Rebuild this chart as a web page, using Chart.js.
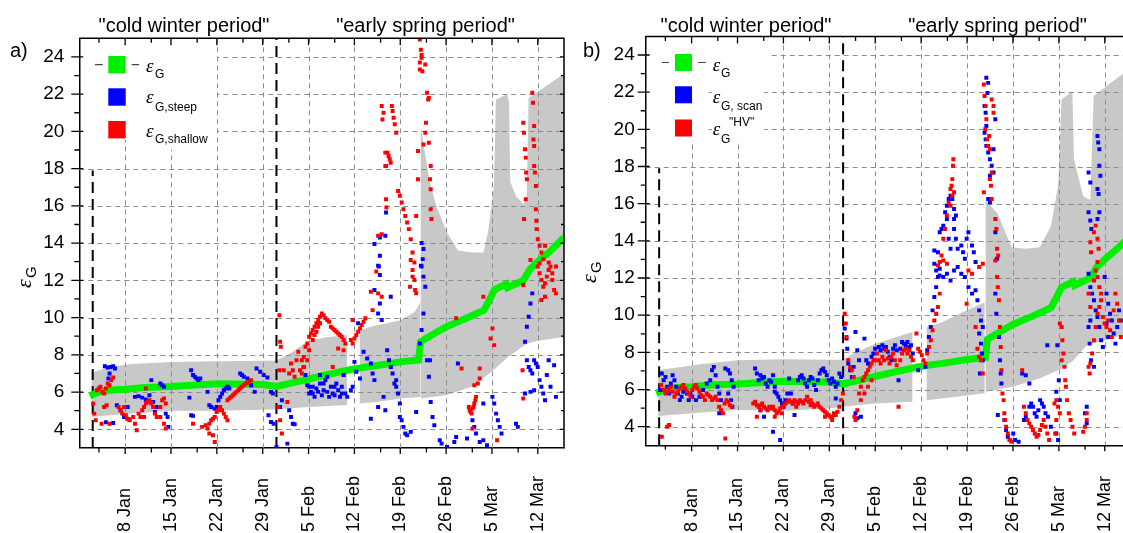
<!DOCTYPE html>
<html>
<head>
<meta charset="utf-8">
<script src="https://cdn.jsdelivr.net/npm/chart.js@4.4.1/dist/chart.umd.min.js"></script>
<style>
  html, body { margin: 0; padding: 0; background: #fff; overflow: hidden; width: 1123px; height: 533px; }
  #wrapA { position: absolute; left: 0; top: 0; }
  #wrapB { position: absolute; left: 560px; top: 0; }
</style>
</head>
<body>
<div id="wrapA"><canvas id="panelA" width="570" height="533"></canvas></div>
<div id="wrapB"><canvas id="panelB" width="600" height="533"></canvas></div>
<script>
// days are counted from 1 Jan 00:00
const majorDays = [7, 14, 21, 28, 35, 42, 49, 56, 63, 70];
const dayLabels = ['8 Jan', '15 Jan', '22 Jan', '29 Jan', '5 Feb', '12 Feb', '19 Feb', '26 Feb', '5 Mar', '12 Mar'];
const minorDays = [3, 11, 18, 25, 32, 39, 46, 53, 60, 67];
const yMajor = [4, 6, 8, 10, 12, 14, 16, 18, 20, 22, 24];
const yMinor = [5, 7, 9, 11, 13, 15, 17, 19, 21, 23];
const periodLines = [[2.05, 17.9], [30.1, 25]];   // [day, top of dashed line]

// eps_G, same in both panels
const epsG = [[1.6,5.8],[3,6.0],[4.6,6.1],[7,6.15],[10,6.25],[14,6.3],[21,6.45],[28,6.4],[30.1,6.3],[32,6.45],[35,6.7],[38,6.95],[41.3,7.2],[43,7.3],[46,7.45],[49,7.62],[51.8,7.72],[52.1,8.7],[54,9.1],[56,9.5],[59,9.95],[61.8,10.4],[62.4,10.8],[63.4,11.5],[65.2,11.8],[65.4,11.6],[67.8,12.0],[68.8,12.6],[70,13.0],[72,13.6],[74,14.3]];

// grey band, panel a (lower / upper edge per segment)
const lowA1 = [[1.85,4.66],[4.6,4.75],[8,4.85],[14,4.99],[21,5.0],[28,5.05],[30.1,5.08],[35,5.2],[40.9,5.3]];
const highA1 = [[1.85,7.03],[4.6,7.35],[8,7.5],[14,7.62],[21,7.66],[28,7.68],[30.1,7.7],[32.3,8.1],[35,8.75],[38,8.95],[40.9,9.06]];
const lowA2 = [[42.8,5.38],[45,5.45],[47,5.55],[49,5.65],[52.1,5.74]];
const highA2 = [[42.8,9.33],[45,9.55],[47,9.7],[49,9.85],[51.2,10.3],[52.1,10.85]];
const lowA3 = [[52.1,5.65],[56,5.83],[60,6.3],[63,7.1],[65.5,7.9],[68.3,8.6],[70,8.75],[74,8.95]];
const highA3 = [[52.1,20.3],[52.8,18.8],[53.5,17.3],[54.5,16.0],[56.1,14.6],[57.8,13.6],[60,13.5],[61.7,13.5],[62.4,14.6],[63.3,17.0],[63.6,21.7],[65.3,22.0],[65.6,21.6],[65.8,17.3],[66.7,16.5],[67.8,16.1],[68.3,16.4],[68.6,21.8],[71.1,22.4],[74,23.1]];

// grey band, panel b
const lowB1 = [[1.9,4.57],[8,4.75],[14,4.9],[21,4.86],[28,4.98],[30.1,5.07],[35,5.25],[40.7,5.34]];
const highB1 = [[1.9,7.04],[8,7.35],[14,7.58],[21,7.63],[28,7.6],[30.1,7.6],[31.5,7.9],[35,8.47],[40.7,9.1]];
const lowB2 = [[42.8,5.43],[47,5.6],[51.7,5.8]];
const highB2 = [[42.8,9.37],[45,9.6],[49,10.27],[51.7,10.7]];
const lowB3 = [[51.8,5.88],[56,6.15],[60,6.6],[62.9,7.04],[65,7.5],[67.3,8.4],[70,8.65],[72.6,8.92],[74,9.05]];
const highB3 = [[51.8,16.2],[53.6,15.5],[55.8,13.66],[58,13.57],[60.1,13.66],[61.8,14.8],[62.9,17.0],[63.4,21.6],[65.06,22.05],[65.3,18.4],[66.7,16.4],[67.8,16.2],[68.3,21.8],[72.6,22.95],[74,23.3]];

// panel a: eps_G,steep (blue)
const steepA = [[3.9,7.39],[4.34,7.32],[4.78,7.35],[5.17,7.39],[5.45,7.26],[4.62,7.0],[4.45,6.73],[4.06,4.38],[5.17,4.34],
[5.73,5.29],[6.28,5.02],[6.83,4.66],[7.39,5.2],[7.66,4.52],[8.5,5.74],[9.05,5.78],[9.6,5.7],[10.16,5.6],[10.71,5.83],[10.99,6.64],[11.27,5.47],[11.82,5.2],[11.54,4.93],[12.37,6.46],[12.65,6.37],[12.93,6.28],[13.2,4.84],[13.48,4.66],[13.59,4.13],
[16.81,5.7],[17.08,7.17],[17.36,6.91],[17.64,6.82],[17.91,6.73],[18.19,6.64],[18.47,6.73],[17.08,4.75],[17.36,4.72],
[19.58,6.01],[19.85,5.29],[20.13,5.2],[20.68,5.11],[20.96,5.2],[21.24,5.56],[21.52,5.74],[21.79,5.92],[22.07,6.1],[22.35,6.19],[22.62,6.28],[22.9,6.19],
[24.56,7.0],[24.84,6.91],[25.12,6.82],[25.67,6.73],[26.22,6.37],[26.78,6.01],[27.06,7.26],[27.61,7.09],[28.16,6.91],[28.72,6.78],[29.27,6.01],[29.55,5.92],[28.88,4.75],[29.27,4.39],[29.66,4.3],
[30.1,3.05],[30.66,5.2],[30.93,5.56],[31.76,3.23],[32.04,5.02],[32.32,4.66],[32.6,4.3],[32.87,4.27],
[34.26,7.35],[34.53,6.91],[34.81,6.37],[35.09,6.28],[35.37,6.01],[35.64,5.92],[36.2,6.19],[36.75,6.46],[37.3,6.1],[37.58,6.64],[37.86,6.01],[38.41,6.28],[38.69,5.92],[38.97,5.83],[39.24,6.46],[39.52,6.1],[39.8,5.74],[40.07,6.28],[40.35,6.91],[40.63,5.92],[40.91,5.74],
[35.92,5.74],[36.47,6.01],[37.03,5.83],[38.14,5.74],[35.09,5.92],[35.64,6.28],[37.3,6.46],[38.97,6.28],[40.07,5.92],[37.86,6.82],[36.75,6.91],
[41.46,6.1],[41.74,6.28],[42.01,7.62],[42.29,7.09],[42.57,9.69],[42.85,6.73],[43.4,8.16],[43.95,7.8],[44.51,7.53],[44.78,7.0],[45.06,6.64],
[45.62,10.22],[45.89,10.76],[45.73,12.74],[45.89,12.29],[45.06,11.48],[46.17,9.87],[46.45,5.74],[46.72,5.02],[45.62,5.2],[44.51,4.57],
[47.0,8.25],[47.28,7.71],[47.55,7.35],[47.83,7.0],[48.11,6.46],[48.38,6.28],[48.66,5.92],[48.94,5.38],[48.38,6.64],[47.55,11.12],
[48.94,4.66],[49.22,4.48],[49.49,4.13],[49.77,3.77],[50.05,3.68],[50.6,3.86],[51.43,4.93],
[51.99,8.61],[52.26,9.33],[52.54,10.22],[52.54,12.2],[52.26,12.74],[52.82,11.66],[53.09,7.71],[53.37,6.82],[53.54,7.71],[53.65,5.47],[53.93,4.66],[54.2,4.22],
[55.03,3.41],[55.31,3.23],[56.14,3.05],[57.25,3.32],[57.53,3.59],[57.8,7.53],
[59.19,3.5],[60.02,4.48],[60.3,4.13],[60.57,3.77],[61.13,3.32],[61.68,3.41],[61.68,5.38],[62.24,3.14],
[63.07,5.74],[63.35,5.38],[63.63,4.84],[63.9,4.48],[64.18,4.13],[64.46,3.77],[66.67,4.3],[66.95,4.13],
[68.05,8.7],[68.33,9.51],[68.61,10.04],[68.88,10.76],[69.16,11.3],[68.33,7.71],[68.61,7.35],[68.88,7.17],[69.16,7.0],[69.44,7.71],[69.71,7.53],[69.99,7.35],[70.27,6.64],[70.55,6.28],[70.83,5.92],[71.1,5.56],[71.38,6.91],[71.66,7.71],[71.94,6.28],[72.49,7.44],[72.77,5.74],[69.44,6.1],[68.88,6.01],[68.05,5.92],
[45.06,13.95],[45.89,14.3],[46.72,14.39],[46.83,15.64],[45.89,13.32],[45.62,12.79],[52.26,14.0],[52.54,13.68],[52.43,13.14],[52.15,12.79]];

// panel a: eps_G,shallow (red)
const shallowA = [[2.12,5.38],[2.29,4.84],[2.51,4.48],[2.68,6.1],[2.96,6.19],[3.23,6.28],[3.51,6.01],[3.79,5.92],[4.06,6.19],[4.34,6.46],[4.62,6.37],[4.89,6.64],[5.17,6.78],[3.79,5.2],[4.17,5.29],[3.4,4.3],[4.62,4.3],
[6.0,5.2],[6.28,5.02],[6.56,4.84],[6.83,5.2],[7.11,4.75],[7.39,4.57],[7.66,4.48],
[8.22,4.66],[8.5,4.3],[8.77,3.95],[9.05,4.84],[9.33,4.66],[9.6,5.02],[9.88,5.2],[10.16,5.38],[10.43,5.47],[10.71,5.56],[10.16,6.19],[9.88,4.66],
[10.99,5.38],[11.27,5.2],[11.54,4.84],[11.82,4.66],[12.37,4.66],[12.37,5.2],[12.65,5.56],[12.93,5.65],[13.2,5.38],[13.2,4.04],[12.93,4.3],
[17.36,4.3],[18.75,4.13],[19.3,4.22],[19.58,4.04],[19.85,4.3],[20.13,4.48],[20.41,4.57],[20.68,4.66],[20.96,4.93],[21.24,5.02],[21.52,5.2],[21.79,5.02],[22.07,4.84],[22.35,4.66],[22.62,4.48],[20.68,3.32],[20.41,3.68],[19.85,3.77],
[22.62,5.56],[22.9,5.65],[23.18,5.74],[23.45,5.83],[23.73,5.92],[24.0,6.01],[24.29,6.1],[24.56,6.19],[24.84,6.28],[25.12,6.37],[25.39,6.46],[25.67,6.5],[25.95,6.55],[26.22,6.64],
[30.38,5.2],[30.55,10.13],[30.66,8.7],[30.77,8.43],[30.55,7.17],[30.66,4.48],[30.93,3.77],[31.21,7.17],[31.76,5.47],[32.04,7.0],[32.32,7.53],[32.6,7.17],[32.87,6.82],[33.15,7.71],[33.43,8.16],
[33.7,7.17],[33.98,7.71],[34.26,7.89],[34.53,8.43],[34.81,8.61],[35.09,8.97],[35.37,9.15],[35.64,9.33],[35.92,9.51],[36.2,9.69],[36.47,9.87],[36.75,10.04],[37.03,10.22],
[37.3,10.13],[37.58,9.96],[37.86,9.87],[38.14,9.78],[38.41,9.51],[38.69,9.42],[38.97,9.33],[39.24,9.24],[39.52,9.15],[39.8,9.06],[40.07,8.97],[40.35,8.79],[40.63,8.61],[38.69,7.35],[39.52,8.34],[40.35,8.25],
[34.26,7.35],[34.81,7.71],[35.09,8.25],[35.64,8.79],[35.92,9.06],[36.2,9.24],[36.47,9.51],[36.75,9.69],[33.98,7.0],
[41.46,8.79],[41.74,8.61],[42.01,8.88],[42.29,9.06],[42.57,9.24],[42.85,9.42],[43.12,9.6],[43.4,9.78],[41.74,9.87],[43.68,9.96],
[44.51,11.39],[44.78,10.4],[45.34,12.47],[45.62,11.3],[46.17,11.12],
[46.17,21.36],[46.28,20.64],[46.45,21.0],[46.72,18.86],[46.83,16.36],[46.89,15.91],[46.72,18.14],[45.62,14.39],[46.17,14.48],
[47.72,21.36],[47.83,21.09],[47.99,20.73],[48.16,20.38],[48.38,19.93],[47.06,18.86],[47.22,18.68],[47.39,18.5],[47.55,18.32],[46.83,18.14],
[48.66,16.8],[48.94,16.54],[49.22,16.18],[49.49,15.82],[49.77,15.46],[50.05,15.11],[50.32,14.75],[50.6,14.21],[50.88,13.5],[51.16,12.96],
[50.6,13.09],[50.88,12.56],[51.16,12.02],[51.27,11.48],[51.43,11.3],[50.49,11.66],[50.88,12.2],
[51.99,24.93],[52.15,24.39],[52.26,23.95],[51.99,23.32],[52.37,23.23],[52.82,23.59],[53.09,22.07],[53.37,21.8],[52.82,19.93],[52.93,20.46],[52.54,19.3],[53.37,19.39],[53.65,18.14],[53.54,17.43],[53.65,16.89],[51.71,18.95],[51.71,17.43],[51.43,15.46],[53.65,15.82],[53.76,15.29],[53.26,21.71],[51.99,23.7],[52.26,24.1],
[57.53,9.96],[58.36,7.26],[59.47,5.2],[59.74,4.93],[60.02,5.11],[60.3,5.38],[60.57,5.74],[60.02,4.04],[60.3,6.37],[60.85,6.46],[61.13,7.26],[61.68,11.12],[61.13,6.73],[62.79,8.88],[63.07,9.42],[63.35,8.52],[63.79,3.41],
[59.6,5.02],[59.9,4.84],[60.2,5.2],[60.46,5.56],
[67.78,5.65],[67.67,7.17],[67.78,11.75],
[67.78,20.46],[67.89,19.93],[68.05,19.04],[68.16,18.59],[68.22,17.79],[68.33,17.43],[68.16,16.36],[67.89,15.29],
[69.16,22.07],[69.27,21.54],[69.44,20.29],[69.33,19.57],[69.44,19.21],[69.44,18.14],[69.55,17.79],[69.71,17.07],[69.71,15.82],[69.77,15.2],[69.82,14.75],[69.99,14.21],[70.27,13.86],[70.55,13.5],[71.1,13.86],[70.83,13.14],[71.66,12.96],
[69.99,12.74],[70.27,12.38],[70.55,12.02],[70.83,11.66],[71.1,11.84],[71.38,12.2],[71.66,12.56],[71.94,12.74],[72.21,12.02],[72.49,11.48],[72.77,11.3],[70.55,10.94],[71.1,11.12],[72.21,12.38],[72.77,12.74],[70.27,12.91],[68.88,13.09]];

// panel b: eps_G,scan (blue)
const scanB = [[2.19,5.97],[2.46,6.86],[2.74,6.5],[3.01,6.68],[3.28,6.15],[3.56,5.79],[3.83,6.33],[4.1,6.77],[4.38,6.5],[4.65,6.15],[4.92,5.79],[5.2,5.43],[5.47,5.61],[5.74,5.88],[6.02,5.97],[6.29,5.79],[6.56,5.43],[6.84,5.79],[7.11,5.61],[7.66,5.43],[8.2,5.61],[8.75,5.97],[9.3,6.33],[9.84,6.5],[10.12,7.04],[10.39,7.22],[10.66,6.77],[10.94,6.15],[11.21,5.79],[11.48,5.43],[11.21,4.72],
[12.14,7.13],[12.58,7.04],[12.85,6.86],[13.12,6.5],[13.4,6.15],[12.58,5.79],[13.01,5.43],[13.23,5.07],
[16.68,7.13],[16.95,6.86],[17.22,6.5],[17.5,6.77],[17.77,6.59],[18.04,6.68],[18.32,6.33],[18.59,6.15],[18.86,6.5],[19.14,6.42],[19.41,6.77],[19.68,6.15],[17.5,4.89],[18.04,4.54],
[19.68,5.88],[19.96,5.79],[20.23,5.61],[20.5,5.43],[20.78,5.25],[21.05,5.07],[21.32,5.43],[21.6,5.79],[21.87,6.59],[22.14,5.79],[22.42,5.25],[22.69,4.63],[19.41,3.73],[20.5,3.28],
[23.24,6.5],[23.51,6.68],[23.79,6.77],[24.06,6.59],[24.33,6.33],[24.61,6.15],[24.88,6.5],[25.15,6.68],[25.43,6.59],[25.7,6.24],[25.97,5.97],[26.25,6.5],[26.52,6.86],[26.79,7.04],[27.07,7.13],[27.34,6.95],[27.61,6.77],[27.89,6.5],[28.16,6.33],[28.43,6.59],[28.71,6.42],[28.98,6.15],[29.25,6.33],[29.53,6.86],[29.8,6.68],[28.98,5.52],
[30.35,9.28],[30.62,8.74],[30.73,8.2],[30.89,7.4],[31.17,7.04],[31.44,6.68],[31.71,7.22],[31.99,9.1],[32.26,8.11],[32.53,7.58],[31.99,4.72],[32.26,4.45],[32.81,4.54],
[33.35,8.74],[33.63,7.58],[33.9,7.4],[34.45,7.76],[34.72,7.94],[34.99,8.2],[35.54,8.29],[35.81,8.11],[36.09,8.38],[36.36,8.2],[36.63,8.29],[36.91,8.03],[37.18,7.76],[37.45,7.58],[37.73,8.2],[38.0,8.38],[38.27,8.11],[38.55,6.5],[38.82,8.2],[39.09,8.56],[39.37,8.47],[39.64,8.38],[39.91,8.56],[40.19,8.29],[40.46,8.38],[40.73,7.94],[41.55,7.04],
[42.65,7.22],[42.92,8.11],[43.19,8.83],[43.47,9.37],[43.74,10.26],[44.01,10.98],[44.29,11.51],[44.56,12.05],[44.83,12.5],
[44.01,13.48],[44.56,13.39],[44.83,14.46],[45.11,14.64],[45.38,14.82],[45.66,15.54],[45.93,15.89],[46.2,16.25],[46.48,16.43],[46.75,16.25],[47.02,15.71],[47.02,15.18],[47.3,15.36],[45.93,15.18],[46.2,14.11],[46.48,13.57],[47.02,14.64],[47.3,14.11],[47.57,13.57],[48.12,13.75],[48.39,13.39],[48.67,13.04],[48.94,14.11],[49.21,14.46],[49.76,13.75],[50.03,13.39],[50.3,12.86],
[44.01,12.77],[44.29,12.41],[44.83,12.14],[45.38,12.05],[45.93,12.23],[46.48,11.87],[47.02,12.41],[47.57,12.59],[48.12,12.23],[48.67,12.05],[49.21,11.51],[49.76,11.16],[50.3,11.34],[50.58,10.8],[50.85,10.26],[51.12,9.72],[51.4,9.37],[50.85,9.01],[51.12,8.47],[51.29,7.94],[51.4,7.58],[50.96,6.86],
[51.94,22.77],[52.22,22.5],[52.11,21.96],[51.67,21.25],[51.83,20.89],[51.94,20.18],[51.67,19.82],[51.83,19.46],[51.94,19.11],[52.22,18.75],[52.49,18.39],[52.76,18.04],[53.04,18.93],[53.04,17.68],[52.49,17.5],[52.22,16.25],[52.49,16.07],[53.31,20.54],[53.31,14.46],[53.58,13.04],
[53.31,11.16],[53.47,10.08],[53.86,8.83],[54.02,7.58],[54.13,6.86],[54.24,6.33],[53.69,4.63],[54.68,4.36],[54.95,3.82],[55.22,3.46],[55.5,3.28],[56.04,3.64],[56.32,3.28],[56.86,3.19],
[57.68,4.36],[57.96,4.54],[58.5,5.07],[58.78,5.25],[59.05,5.07],[59.32,4.72],[59.6,4.54],[59.87,4.89],[60.14,5.43],[60.42,5.25],[60.69,5.07],[60.96,4.72],[61.24,8.38],[61.35,4.54],[61.78,4.0],[62.61,5.88],[62.77,8.38],[62.99,6.5],[63.15,5.43],[62.61,3.64],[62.88,3.28],[57.96,6.77],[58.5,6.33],[57.41,6.86],
[67.53,17.68],[67.8,17.14],[67.53,15.54],[67.8,15.09],[67.96,14.64],[68.89,19.64],[69.0,19.29],[69.17,18.93],[69.17,18.04],[69.33,17.5],[68.89,16.79],[69.06,16.52],[69.17,15.54],[68.89,15.18],
[67.53,12.23],[67.8,11.51],[68.07,11.16],[68.35,10.8],[68.62,10.26],[68.89,9.9],[69.17,9.37],[69.44,8.65],[69.71,8.29],[69.99,12.05],[70.26,11.16],[70.53,10.62],[70.81,10.08],[71.08,9.72],[71.36,9.01],[71.63,8.47],[71.9,9.37],[72.17,10.26],[72.45,9.72],[67.53,9.37],[67.69,8.47],[67.91,7.58],[68.35,7.22],[67.8,9.72],[70.26,9.55],[70.53,8.83],[67.25,5.07],[66.98,4.72],[67.25,4.18]];

// panel b: eps_G "HV" (red)
const hvB = [[2.46,3.46],[3.28,4.0],[3.56,4.09],[2.35,6.24],[2.74,5.97],[3.01,5.79],[3.28,5.88],[3.56,6.06],[3.83,6.15],[4.1,5.88],[4.38,5.61],[4.65,5.79],[4.92,5.88],[5.2,6.06],[5.47,6.15],[5.74,6.24],[6.02,6.06],[6.29,5.88],[6.56,5.79],[6.84,5.61],[7.11,5.97],[7.38,6.15],[7.66,6.24],[7.93,6.06],[8.2,5.88],[8.48,5.7],[8.75,5.61],[9.02,5.43],[9.3,5.79],[9.57,5.7],[9.84,5.61],[10.12,5.43],[10.39,5.52],[10.66,5.61],[10.94,5.43],[11.21,5.07],[11.48,4.89],[11.76,4.72],[12.03,5.25],[12.3,5.43],[12.58,5.34],[12.85,5.16],[13.12,5.07],[12.14,3.37],
[16.4,5.25],[16.68,5.34],[16.95,5.16],[17.22,5.07],[17.5,5.16],[17.77,5.25],[18.04,5.07],[18.32,4.98],[18.59,4.89],[18.86,5.07],[19.14,4.98],[19.41,5.07],[19.68,4.89],[19.96,4.72],[20.23,4.81],[20.5,4.98],[20.78,5.07],[21.05,5.16],[21.32,5.25],[21.6,5.34],[21.87,5.43],[22.14,5.34],[22.42,5.25],[22.69,5.43],[22.96,5.34],[23.24,5.25],[23.51,5.43],[23.79,5.34],[24.06,5.25],[24.33,5.43],[24.61,5.61],[24.88,5.34],[25.15,5.16],[25.43,5.25],[25.7,5.07],[25.97,5.16],[26.25,5.25],[26.52,5.07],[26.79,4.98],[27.07,4.89],[27.34,4.81],[27.61,4.72],[27.89,4.63],[28.16,4.54],[28.43,4.54],[28.71,4.72],[28.98,4.63],[29.25,4.81],[29.53,5.07],[29.8,5.43],[30.07,5.79],
[17.5,4.89],[19.68,4.54],[20.78,4.72],[22.96,5.07],[25.15,5.43],[27.34,4.54],[28.43,4.36],[16.95,4.54],
[30.35,10.08],[30.51,9.55],[30.62,8.83],[30.89,7.58],[31.17,7.22],[31.44,7.04],[31.71,6.68],[31.82,4.54],[31.99,4.36],[32.26,4.89],[32.53,5.79],[32.81,6.15],[33.08,6.5],[33.35,6.68],[33.63,6.86],[33.9,7.04],[34.17,7.22],[34.45,7.4],[34.72,7.58],[32.81,5.43],[33.35,5.79],[33.9,6.15],[34.45,6.5],
[34.99,7.58],[35.27,7.94],[35.54,7.58],[35.81,7.4],[36.09,7.76],[36.36,7.58],[36.63,8.11],[36.91,7.67],[37.18,7.4],[37.45,7.76],[37.73,7.94],[38.0,7.58],[38.27,7.31],[38.55,5.07],[38.82,7.58],[39.09,7.94],[39.37,8.11],[39.64,8.2],[39.91,7.94],[40.19,8.11],[40.46,7.76],[40.73,7.58],
[41.28,9.01],[41.55,8.2],[41.83,8.03],[42.1,7.85],[42.37,7.58],[42.65,7.4],[42.92,7.94],[43.19,8.29],[43.47,8.65],[43.74,9.19],[44.01,9.72],[44.29,10.08],[44.56,10.44],[44.83,11.16],
[45.11,13.21],[44.83,12.86],[44.56,12.68],[45.38,14.11],[45.66,14.64],[45.93,15.36],[46.2,16.07],[46.48,15.89],[46.75,16.43],[46.75,17.32],[46.86,18.04],[46.91,18.39],[46.64,16.96],[47.02,16.61],[46.48,16.79],
[45.38,12.94],[45.93,12.77],[49.21,12.41],[49.76,12.23],[50.85,12.59],[51.4,12.77],[48.94,10.62],[50.3,9.37],[50.58,8.2],[50.85,7.76],[51.12,7.58],[51.4,6.86],
[51.56,22.41],[51.67,21.79],[51.83,21.25],[51.94,20.54],[51.78,20.0],[52.05,19.46],[52.22,19.11],[52.38,19.64],[52.76,21.61],[53.04,21.25],[53.04,20.89],[52.49,18.93],[52.76,17.68],[52.49,17.32],[52.65,16.96],[52.76,16.25],[53.31,15.18],[53.47,14.64],[53.58,13.57],[53.75,13.21],[51.56,16.61],
[53.31,12.94],[53.58,12.05],[53.69,11.51],[53.86,10.8],[54.02,9.37],[54.13,8.29],[54.24,7.04],[54.4,5.79],[54.57,5.43],[54.68,4.72],[54.79,4.36],[54.95,4.0],[55.22,3.64],[55.5,3.28],[55.77,3.19],
[57.41,7.04],[57.68,5.07],[57.96,4.72],[58.23,4.36],[58.5,4.18],[58.78,4.0],[59.05,3.82],[59.32,3.64],[59.6,3.46],[59.87,3.55],[60.14,3.82],[60.42,4.09],[60.69,4.36],[60.96,4.0],[61.24,3.64],[61.51,3.28],
[62.33,5.25],[62.61,5.43],[62.88,5.07],[63.15,4.72],[62.61,4.36],[63.15,9.55],[63.43,9.37],[63.54,8.65],[63.7,7.94],[63.86,7.22],[63.97,6.5],[64.08,6.15],[64.25,5.43],[64.52,4.72],[64.79,4.36],[65.07,4.0],[65.34,3.64],[63.43,7.58],[62.44,3.64],
[66.98,4.0],[67.25,4.36],[66.71,3.73],[67.25,4.72],[67.53,7.22],[67.69,6.86],[67.8,7.4],[68.07,7.94],[68.35,8.65],[68.62,9.37],[68.89,10.08],[69.17,10.44],[69.44,10.8],[69.71,9.9],[69.99,9.55],[70.26,9.37],[70.53,9.72],[70.81,9.19],[71.08,8.83],[71.36,10.26],[71.63,11.16],[71.9,10.62],[72.17,9.72],[72.45,8.83],[68.35,11.87],[68.62,12.41],[68.89,12.05],[69.17,11.51],[69.44,11.16],[67.8,10.44],[67.53,11.16],
[67.8,13.93],[67.91,13.39],[68.35,14.46],[68.62,14.82],[68.89,14.11],[69.06,13.57],[68.89,12.86]];

const GREEN = 'rgb(0,240,0)';
const BLUE = '#0000ff';
const RED = '#ff0000';
const GREY = '#c8c8c8';
const GRID = '#8c8c8c';
const SANS = '"Liberation Sans", Arial, sans-serif';
const EPS = 'italic 19px "Liberation Serif", serif';

function pts(arr) {
  return arr.map(p => ({ x: p[0], y: p[1] }));
}

// dashed grid on top of the grey band, then white boxes behind the legend
function drawGridAndMasks(chart, o) {
  const ctx = chart.ctx, xs = chart.scales.x, ys = chart.scales.y, a = chart.chartArea;
  ctx.save();
  ctx.strokeStyle = GRID;
  ctx.lineWidth = 1;
  ctx.setLineDash([5, 4]);
  ctx.beginPath();
  majorDays.forEach(d => {
    const x = Math.round(xs.getPixelForValue(d)) + 0.5;
    ctx.moveTo(x, a.top); ctx.lineTo(x, a.bottom);
  });
  yMajor.forEach(v => {
    const y = Math.round(ys.getPixelForValue(v)) + 0.5;
    ctx.moveTo(a.left, y); ctx.lineTo(a.right, y);
  });
  ctx.stroke();
  ctx.setLineDash([]);
  ctx.translate(-o.ox, 0);
  ctx.fillStyle = '#fff';
  o.masks.forEach(m => ctx.fillRect(m[0], m[1], m[2], m[3]));
  ctx.restore();
}

// draws frame, ticks, tick labels, headings and the legend (page coords, shifted by ox)
const framePlugin = {
  id: 'frame',
  beforeDatasetsDraw(chart) {
    chart.$gridDone = false;
  },
  beforeDatasetDraw(chart, args, o) {
    if (!chart.$gridDone && args.meta.order < 4) {
      drawGridAndMasks(chart, o);
      chart.$gridDone = true;
    }
  },
  afterDraw(chart, args, o) {
    const ctx = chart.ctx, xs = chart.scales.x, ys = chart.scales.y, a = chart.chartArea;
    ctx.save();
    ctx.strokeStyle = '#000';
    ctx.lineWidth = 1.5;
    ctx.beginPath();
    ctx.moveTo(a.left, a.top); ctx.lineTo(a.right, a.top); ctx.lineTo(a.right, a.bottom);
    ctx.stroke();

    ctx.lineWidth = 1.3;
    ctx.beginPath();
    majorDays.forEach(d => {
      const x = xs.getPixelForValue(d);
      ctx.moveTo(x, a.bottom); ctx.lineTo(x, a.bottom + 6);
      ctx.moveTo(x, a.top); ctx.lineTo(x, a.top + 7);
    });
    minorDays.forEach(d => {
      const x = xs.getPixelForValue(d);
      ctx.moveTo(x, a.bottom); ctx.lineTo(x, a.bottom + 4.5);
      ctx.moveTo(x, a.top); ctx.lineTo(x, a.top + 4.5);
    });
    yMajor.forEach(v => {
      const y = ys.getPixelForValue(v);
      ctx.moveTo(a.left - 8, y); ctx.lineTo(a.left + 4, y);
      ctx.moveTo(a.right - 4, y); ctx.lineTo(a.right, y);
    });
    yMinor.forEach(v => {
      const y = ys.getPixelForValue(v);
      ctx.moveTo(a.left - 5, y); ctx.lineTo(a.left, y);
      ctx.moveTo(a.right - 3, y); ctx.lineTo(a.right, y);
    });
    ctx.stroke();

    // rotated date labels, anchored at the bottom
    ctx.fillStyle = '#000';
    ctx.font = '18px ' + SANS;
    ctx.textAlign = 'left';
    ctx.textBaseline = 'middle';
    majorDays.forEach((d, i) => {
      ctx.save();
      ctx.translate(xs.getPixelForValue(d), 532);
      ctx.rotate(-Math.PI / 2);
      ctx.fillText(dayLabels[i], 0, 0);
      ctx.restore();
    });

    ctx.translate(-o.ox, 0);
    ctx.textBaseline = 'alphabetic';
    ctx.font = '20px ' + SANS;
    ctx.textAlign = 'center';
    ctx.fillText('"cold winter period"', o.head[0], 31.5);
    ctx.fillText('"early spring period"', o.head[1], 31.5);
    ctx.textAlign = 'left';
    ctx.fillText(o.letter, o.letterX, 57);

    // y axis title
    ctx.save();
    ctx.translate(o.titleX, o.titleY);
    ctx.rotate(-Math.PI / 2);
    ctx.font = 'italic 22px "Liberation Serif", serif';
    ctx.fillText('ε', 0, 0);
    ctx.font = '15px ' + SANS;
    ctx.fillText('G', 10, 5);
    ctx.restore();

    // legend
    const L = o.legend;
    L.items.forEach(it => {
      ctx.fillStyle = it.color;
      ctx.fillRect(L.sqX, it.top, L.sq, L.sq);
      if (it.line) {
        ctx.strokeStyle = '#444';
        ctx.lineWidth = 1.2;
        ctx.beginPath();
        const yy = it.top + L.sq / 2;
        ctx.moveTo(L.dash[0], yy); ctx.lineTo(L.dash[1], yy);
        ctx.moveTo(L.dash[2], yy); ctx.lineTo(L.dash[3], yy);
        ctx.stroke();
      }
      ctx.fillStyle = '#000';
      ctx.font = EPS;
      ctx.fillText('ε', L.textX, it.eps);
      ctx.font = '12px ' + SANS;
      ctx.fillText(it.sub, L.subX, it.subY);
      if (it.sup) ctx.fillText(it.sup, L.subX + 8, it.supY);
    });
    ctx.restore();
  }
};

function makePanel(id, p) {
  const datasets = [
    { type: 'scatter', data: pts(p.red), backgroundColor: RED, pointStyle: 'rect', pointRadius: 2.8, pointBorderWidth: 0, order: 0 },
    { type: 'scatter', data: pts(p.blue), backgroundColor: BLUE, pointStyle: 'rect', pointRadius: 2.8, pointBorderWidth: 0, order: 1 },
    { type: 'line', data: pts(epsG), borderColor: GREEN, borderWidth: 7, pointRadius: 0, fill: false, order: 2 }
  ];
  periodLines.forEach(l => {
    datasets.push({ type: 'line', data: [{ x: l[0], y: 3 }, { x: l[0], y: l[1] }], borderColor: '#000', borderWidth: 2, borderDash: [11, 6], pointRadius: 0, fill: false, order: 3 });
  });
  p.bands.forEach(seg => {
    datasets.push({ type: 'line', data: pts(seg[0]), borderColor: 'rgba(0,0,0,0)', borderWidth: 0, pointRadius: 0, fill: false, order: 4 });
    datasets.push({ type: 'line', data: pts(seg[1]), borderColor: 'rgba(0,0,0,0)', borderWidth: 0, pointRadius: 0, fill: '-1', backgroundColor: GREY, order: 4 });
  });

  return new Chart(document.getElementById(id), {
    type: 'scatter',
    data: { datasets: datasets },
    options: {
      responsive: false,
      animation: false,
      events: [],
      layout: { autoPadding: false, padding: p.padding },
      plugins: { legend: { display: false }, tooltip: { enabled: false }, frame: p.frame },
      scales: {
        x: {
          type: 'linear', min: 0, max: 74,
          afterBuildTicks: s => { s.ticks = majorDays.map(v => ({ value: v })); },
          afterFit: s => { s.height = p.xAxisH; },
          ticks: { display: false },
          grid: { display: false, drawTicks: false },
          border: { color: '#000', width: 1.5 }
        },
        y: {
          min: 3, max: 25,
          afterBuildTicks: s => { s.ticks = yMajor.map(v => ({ value: v })); },
          afterFit: s => { s.width = p.yAxisW; },
          ticks: { color: '#000', font: { family: SANS, size: 19 }, padding: p.yPad },
          grid: { display: false, drawTicks: false },
          border: { color: '#000', width: 1.5 }
        }
      }
    },
    plugins: [framePlugin]
  });
}

makePanel('panelA', {
  red: shallowA, blue: steepA,
  bands: [[lowA1, highA1], [lowA2, highA2], [lowA3, highA3]],
  padding: { left: 0, top: 38.3, right: 6, bottom: 0 },
  yAxisW: 79.3, xAxisH: 85.1, yPad: 15,
  frame: {
    ox: 0, head: [184, 425.5], letter: 'a)', letterX: 10, titleX: 31, titleY: 288,
    masks: [[81, 38, 136, 102], [140, 140, 77, 10]],
    legend: {
      sqX: 108.3, sq: 17.4, dash: [95, 102.7, 131.7, 139], textX: 146, subX: 155,
      items: [
        { color: GREEN, top: 56, eps: 71.7, sub: 'G', subY: 77.7, line: true },
        { color: BLUE, top: 88.3, eps: 103.3, sub: 'G,steep', subY: 111 },
        { color: RED, top: 121, eps: 136.7, sub: 'G,shallow', subY: 143.3 }
      ]
    }
  }
});

makePanel('panelB', {
  red: hvB, blue: scanB,
  bands: [[lowB1, highB1], [lowB2, highB2], [lowB3, highB3]],
  padding: { left: 0, top: 36.4, right: 29, bottom: 0 },
  yAxisW: 85.7, xAxisH: 87.7, yPad: 11,
  frame: {
    ox: 560, head: [746, 997.5], letter: 'b)', letterX: 583, titleX: 596, titleY: 283,
    masks: [[647, 37, 121, 43], [647, 80, 61, 60], [712, 80, 52, 60]],
    legend: {
      sqX: 675, sq: 17, dash: [661.7, 669, 698, 706], textX: 712.7, subX: 721,
      items: [
        { color: GREEN, top: 54, eps: 70.7, sub: 'G', subY: 77.3, line: true },
        { color: BLUE, top: 86.3, eps: 102.7, sub: 'G, scan', subY: 110 },
        { color: RED, top: 119.5, eps: 135, sub: 'G', subY: 143, sup: '"HV"', supY: 126 }
      ]
    }
  }
});
</script>
</body>
</html>
